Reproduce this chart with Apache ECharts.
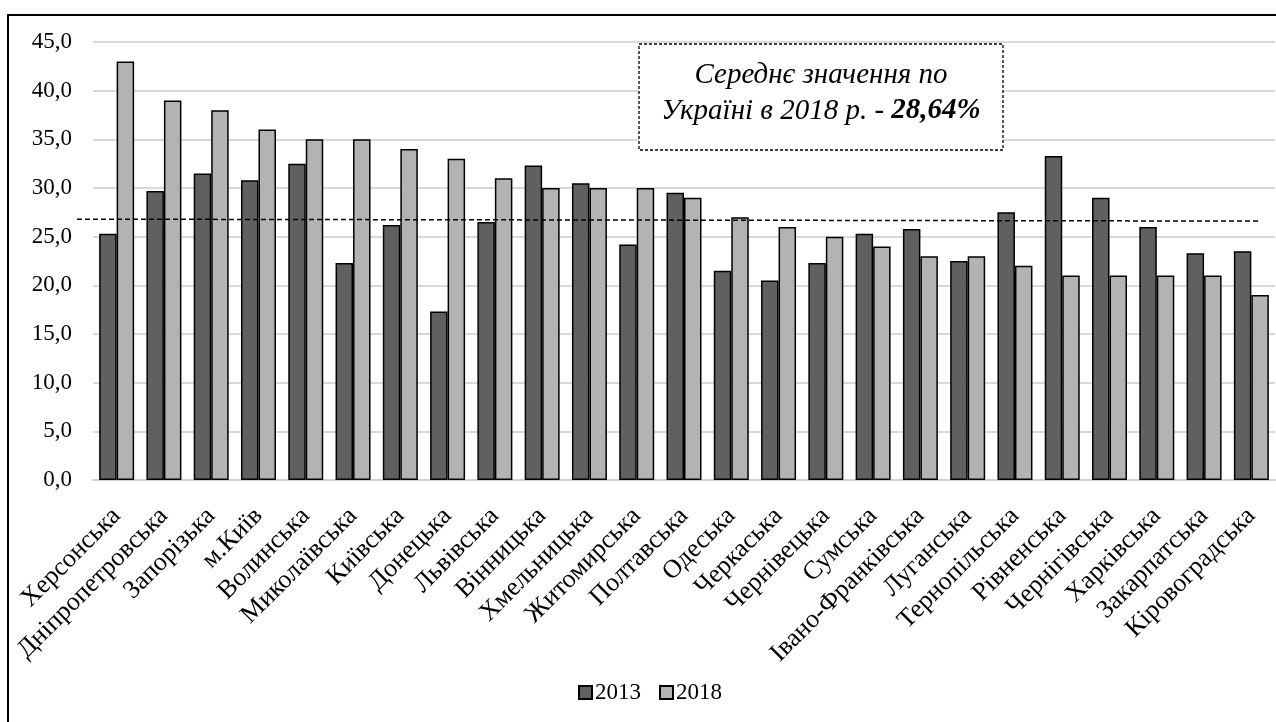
<!DOCTYPE html>
<html>
<head>
<meta charset="utf-8">
<script src="https://cdn.jsdelivr.net/npm/echarts@6/dist/echarts.min.js"></script>
<style>
html,body{margin:0;padding:0;background:#fff;}
#chart{width:1276px;height:722px;}
</style>
</head>
<body>
<div id="chart"></div>
<script>
const categories = ['Херсонська','Дніпропетровська','Запорізька','м.Київ','Волинська','Миколаївська','Київська','Донецька','Львівська','Вінницька','Хмельницька','Житомирська','Полтавська','Одеська','Черкаська','Чернівецька','Сумська','Івано-Франківська','Луганська','Тернопільська','Рівненська','Чернігівська','Харківська','Закарпатська','Кіровоградська'];
const values2013 = [25.3, 29.7, 31.5, 30.8, 32.5, 22.3, 26.2, 17.3, 26.5, 32.3, 30.5, 24.2, 29.5, 21.5, 20.5, 22.3, 25.3, 25.8, 22.5, 27.5, 33.3, 29.0, 26.0, 23.3, 23.5];
const values2018 = [43, 39, 38, 36, 35, 35, 34, 33, 31, 30, 30, 30, 29, 27, 26, 25, 24, 23, 23, 22, 21, 21, 21, 21, 19];
const seriesNames = ['2013', '2018'];
const avgLineStart = 26.8;
const avgLineEnd = 26.6;
const noteLine1 = 'Середнє значення по';
const noteLine2 = 'Україні в 2018 р. - ';
const noteValue = '28,64%';

const FONT = '"Liberation Serif", "Times New Roman", serif';
const chart = echarts.init(document.getElementById('chart'), null, {renderer: 'canvas'});

const option = {
  backgroundColor: '#ffffff',
  animation: false,
  textStyle: {fontFamily: FONT},
  grid: {left: 93, right: 1, top: 42, bottom: 242},
  legend: {
    top: 676,
    left: 573,
    icon: 'rect',
    itemWidth: 13,
    itemHeight: 13,
    itemGap: 18,
    textStyle: {fontFamily: FONT, fontSize: 23, color: '#000', padding: [0,0,0,-2]},
    data: seriesNames
  },
  xAxis: {
    type: 'category',
    data: categories,
    axisTick: {show: false},
    axisLine: {show: true, lineStyle: {color: '#d0d0d0', width: 2}},
    axisLabel: {interval: 0, rotate: 45, margin: 32, fontFamily: FONT, fontSize: 26, color: '#000'}
  },
  yAxis: {
    type: 'value',
    min: 0, max: 45, interval: 5,
    axisLine: {show: false},
    axisTick: {show: false},
    splitLine: {lineStyle: {color: '#d9d9d9', width: 2}},
    axisLabel: {margin: 21, fontFamily: FONT, fontSize: 23, color: '#000',
      formatter: v => v.toFixed(1).replace('.', ',')}
  },
  series: [
    {name: seriesNames[0], type: 'bar', data: values2013, barGap: '0%', barCategoryGap: '26%',
      itemStyle: {color: '#606060', borderColor: '#000', borderWidth: 1.5}},
    {name: seriesNames[1], type: 'bar', data: values2018, barGap: '0%', barCategoryGap: '26%',
      itemStyle: {color: '#b3b3b3', borderColor: '#000', borderWidth: 1.5}}
  ]
};
chart.setOption(option);

const y1 = chart.convertToPixel({yAxisIndex: 0}, avgLineStart);
const y2 = chart.convertToPixel({yAxisIndex: 0}, avgLineEnd);

chart.setOption({
  graphic: [
    {type: 'rect', silent: true, shape: {x: 8, y: 15, width: 1290, height: 740},
      style: {fill: 'none', stroke: '#000', lineWidth: 2}},
    {type: 'line', silent: true, shape: {x1: 77, y1: y1, x2: 1260, y2: y2},
      style: {stroke: '#000', lineWidth: 1.5, lineDash: [5, 3]}, z: 10},
    {type: 'rect', silent: true, shape: {x: 639, y: 44, width: 364, height: 106},
      style: {fill: '#fff', stroke: '#000', lineWidth: 1.3, lineDash: [3, 2]}, z: 10},
    {type: 'text', silent: true, x: 821, y: 93, z: 11,
      style: {
        text: '{a|' + noteLine1 + '}\n{a|' + noteLine2 + '}{b|' + noteValue + '}',
        align: 'center', verticalAlign: 'middle',
        rich: {
          a: {fontFamily: FONT, fontStyle: 'italic', fontSize: 29, lineHeight: 36, fill: '#000'},
          b: {fontFamily: FONT, fontStyle: 'italic', fontWeight: 'bold', fontSize: 29, lineHeight: 36, fill: '#000'}
        }
      }}
  ]
});
</script>
</body>
</html>
